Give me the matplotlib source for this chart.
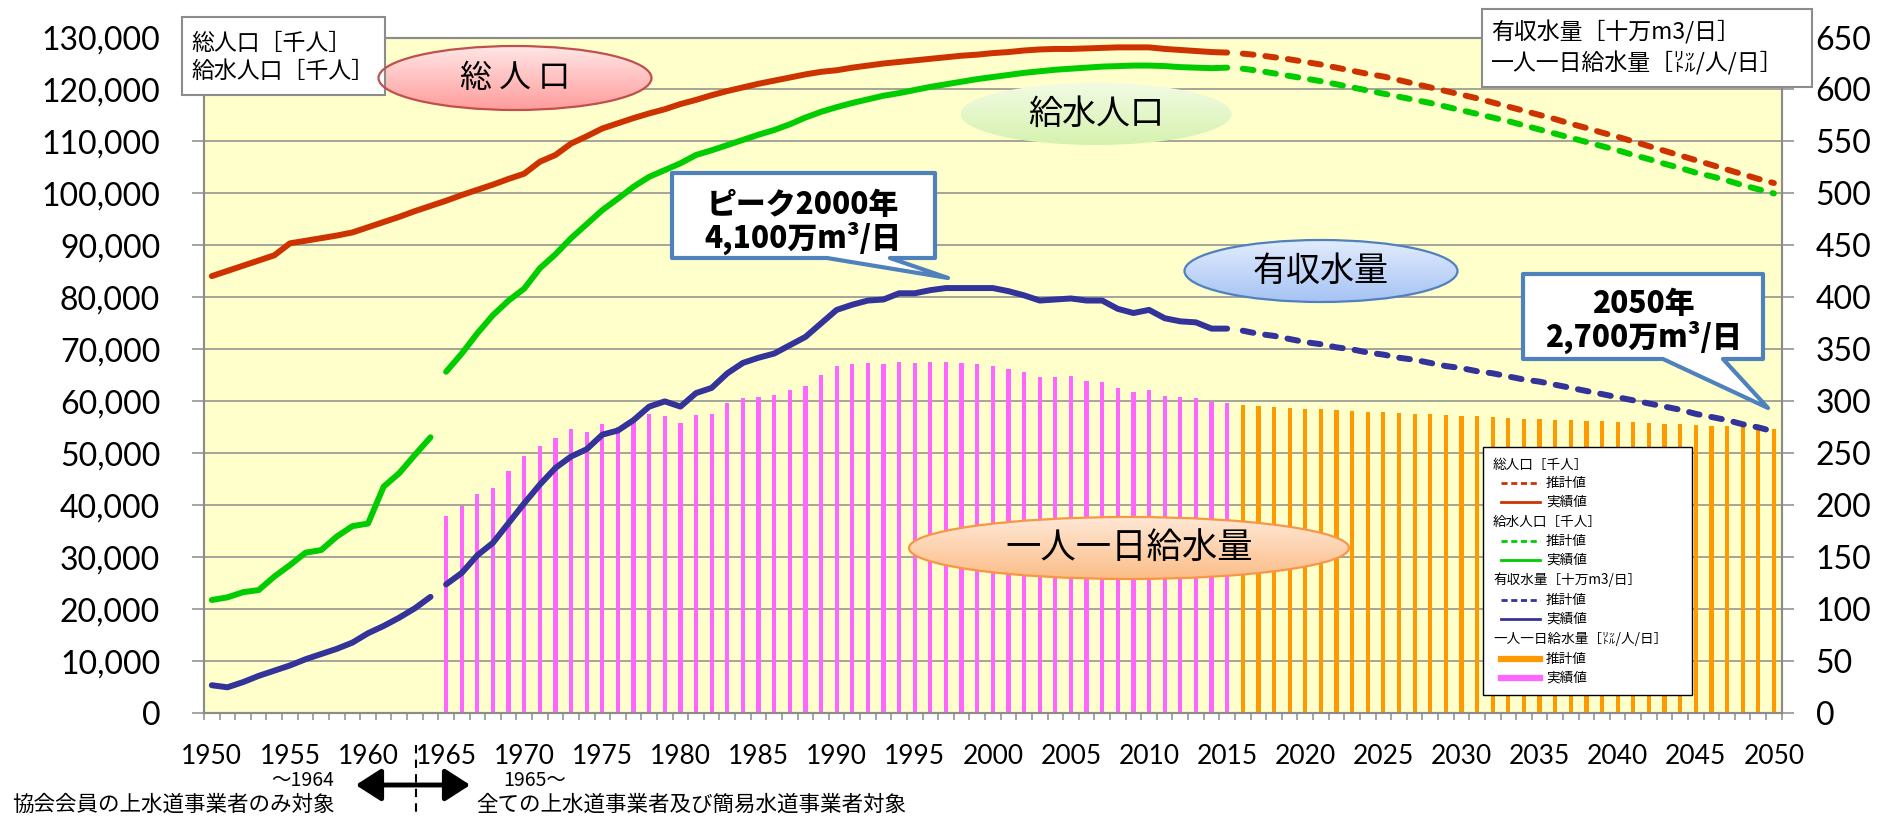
import numpy as np
import matplotlib
matplotlib.use('Agg')
import matplotlib.pyplot as plt
from matplotlib.patches import Ellipse, Rectangle, Polygon, FancyArrowPatch
from matplotlib.lines import Line2D
from matplotlib.colors import to_rgb

plt.rcParams['font.family'] = ['Noto Sans CJK JP', 'DejaVu Sans']

# ---------------- data ----------------
years_all_actual = list(range(1950, 2016))
years_early = list(range(1950, 1965))
years_late = list(range(1965, 2016))
years_proj = list(range(2016, 2051))

total_pop_actual = [
    84100, 85100, 86100, 87100, 88100, 90400, 90900, 91400, 91900, 92500,
    93500, 94500, 95500, 96600, 97600, 98600, 99700, 100700, 101700, 102800,
    103800, 106100, 107400, 109600, 111000, 112500, 113500, 114500, 115400, 116200,
    117200, 118000, 118900, 119700, 120400, 121100, 121700, 122300, 122900, 123400,
    123700, 124200, 124600, 125000, 125300, 125600, 125900, 126200, 126500, 126700,
    127000, 127200, 127500, 127700, 127800, 127800, 127900, 128000, 128100, 128100,
    128100, 127800, 127600, 127400, 127200, 127100]
total_pop_proj = [
    126900, 126600, 126200, 125800, 125300, 124800, 124200, 123600, 123000, 122500,
    121800, 121100, 120400, 119700, 119000, 118300, 117500, 116700, 115900, 115100,
    114300, 113400, 112600, 111700, 110900, 110000, 109100, 108200, 107300, 106400,
    105500, 104600, 103700, 102800, 102000]

served_pop_early = [21800, 22300, 23300, 23700, 26300, 28500, 30900, 31400, 34000, 36000,
                    36500, 43600, 46200, 49700, 53100]
served_pop_late = [
    65700, 69200, 73100, 76600, 79400, 81700, 85600, 88300, 91400, 94100,
    96800, 99000, 101300, 103200, 104500, 105800, 107400, 108300, 109300, 110300,
    111300, 112200, 113300, 114600, 115700, 116600, 117400, 118100, 118800, 119300,
    119900, 120500, 121000, 121500, 122000, 122400, 122800, 123200, 123500, 123800,
    124000, 124200, 124400, 124500, 124600, 124600, 124500, 124300, 124200, 124100,
    124200]
served_pop_proj = [
    124000, 123600, 123100, 122600, 122100, 121600, 121000, 120400, 119800, 119200,
    118600, 118000, 117400, 116700, 116000, 115300, 114600, 113900, 113100, 112300,
    111500, 110700, 109900, 109100, 108300, 107400, 106600, 105700, 104900, 104000,
    103300, 102500, 101600, 100800, 100000]

billed_early = [27, 25, 30, 36, 41, 46, 52, 57, 62, 68, 77, 84, 92, 101, 112]
billed_late = [
    124, 135, 152, 164, 183, 202, 220, 236,
    247, 254, 268, 272, 282, 295, 300, 295, 308, 313,
    327, 337, 342, 346, 354, 362, 375, 388, 393, 397,
    398, 404, 404, 407, 409, 409, 409, 409, 406, 402,
    397, 398,
    399, 397, 397, 389, 385, 388, 380, 377, 376, 370, 370]
billed_proj = [
    368, 365, 363, 360, 357, 355, 352, 350, 347, 345,
    342, 340, 337, 334, 332, 329, 327, 324, 321, 319,
    316, 313, 310, 307, 304, 301, 298, 295, 292, 288,
    285, 282, 278, 275, 271]

per_capita_actual = [
    190, 199, 211, 217, 233, 247, 257, 265,
    273, 270.5, 278, 275.5, 282, 288, 286, 279, 287, 288,
    298, 303, 304, 306, 311, 315, 325, 334, 335.5, 337,
    336, 338, 337, 338, 338, 337, 336, 334, 331, 328,
    323, 323,
    324, 320, 319, 312.5, 309, 311, 305, 304, 303, 299, 298]
per_capita_proj = [
    297, 296, 295, 294, 293, 292.5, 292, 291, 290, 289.5,
    289, 288, 287.5, 287, 286, 285.5, 285, 284, 283.5, 283,
    282.5, 282, 281.5, 281, 280.5, 280, 279, 278.5, 278, 277,
    276.5, 276, 275, 274.5, 273.5]

x_tick_years = list(range(1950, 2051, 5))
left_ticks = list(range(0, 130001, 10000))
right_ticks = list(range(0, 651, 50))

RED = '#CC3300'
GREEN = '#00CC00'
BLUE = '#333399'
PINK = '#FF66FF'
ORANGE = '#FF9900'
GRID = '#8C8C8C'

# ---------------- figure ----------------
W, H = 1890, 817
fig = plt.figure(figsize=(W / 100, H / 100), dpi=100)
L, R, B, T = 204, 1781.7, 713.3, 37.5
ax = fig.add_axes([L / W, 1 - B / H, (R - L) / W, (B - T) / H])
ax.set_facecolor('#FFFFCC')
ax.set_xlim(1949.5, 2050.5)
ax.set_ylim(0, 130000)
ax.set_yticks(left_ticks, labels=[f'{v:,}' for v in left_ticks], fontsize=23, fontfamily='Lato')
ax.set_xticks(x_tick_years, labels=[str(y) for y in x_tick_years], fontsize=19,
              fontfamily=['Liberation Sans Narrow', 'Lato'])
ax.set_xticks(np.arange(1949.5, 2051, 1), minor=True)
ax.tick_params(axis='x', which='major', length=0, pad=22)
ax.tick_params(axis='x', which='minor', length=5, width=1.1, color=GRID)
ax.tick_params(axis='y', length=8.5, width=1.1, color=GRID, pad=23)
ax.grid(axis='y', color=GRID, lw=1.1)
ax.set_axisbelow(True)
for s in ax.spines.values():
    s.set_color(GRID)
    s.set_linewidth(1.5)

lw = 4.3
dash = (0, (1.8, 2.0))
ax.plot(years_all_actual, total_pop_actual, color=RED, lw=lw, solid_capstyle='round', zorder=3)
ax.plot(years_proj, total_pop_proj, color=RED, lw=lw, ls=dash, dash_capstyle='round', zorder=3)
ax.plot(years_early, served_pop_early, color=GREEN, lw=lw, solid_capstyle='round', zorder=3)
ax.plot(years_late, served_pop_late, color=GREEN, lw=lw, solid_capstyle='round', zorder=3)
ax.plot(years_proj, served_pop_proj, color=GREEN, lw=lw, ls=dash, dash_capstyle='round', zorder=3)

ax2 = ax.twinx()
ax2.set_ylim(0, 650)
ax2.set_yticks(right_ticks, labels=[str(v) for v in right_ticks], fontsize=23, fontfamily='Lato')
ax2.tick_params(axis='y', length=8.5, width=1.1, color=GRID, pad=16)
for s in ax2.spines.values():
    s.set_color(GRID)
    s.set_linewidth(1.5)
ax2.bar(years_late, per_capita_actual, width=0.27, color=PINK, zorder=2)
ax2.bar(years_proj, per_capita_proj, width=0.27, color=ORANGE, zorder=2)
ax2.plot(years_early, billed_early, color=BLUE, lw=lw, solid_capstyle='round', zorder=3)
ax2.plot(years_late, billed_late, color=BLUE, lw=lw, solid_capstyle='round', zorder=3)
ax2.plot(years_proj, billed_proj, color=BLUE, lw=lw, ls=dash, dash_capstyle='round', zorder=3)

# ---------------- overlay (pixel coordinates) ----------------
ov = fig.add_axes([0, 0, 1, 1])
ov.set_xlim(0, W)
ov.set_ylim(H, 0)
ov.axis('off')


def grad_ellipse(cx, cy, w, h, ctop, cbot, edge, text, fs):
    e = Ellipse((cx, cy), w, h, facecolor='none', edgecolor=edge if edge else 'none',
                lw=1.6, zorder=6)
    ov.add_patch(e)
    t = np.linspace(0, 1, 128)[:, None]
    c0, c1 = np.array(to_rgb(ctop)), np.array(to_rgb(cbot))
    arr = (c0[None, None, :] * (1 - t[..., None]) + c1[None, None, :] * t[..., None])
    arr = np.repeat(arr, 4, axis=1)
    im = ov.imshow(arr, extent=(cx - w / 2, cx + w / 2, cy + h / 2, cy - h / 2),
                   aspect='auto', zorder=5, interpolation='bilinear')
    im.set_clip_path(e)
    ov.text(cx, cy, text, ha='center', va='center', fontsize=fs, color='black', zorder=7)


grad_ellipse(515, 78, 273, 64, '#FFE6E6', '#FF9C9C', '#C0504D', '総 人 口', 23)
grad_ellipse(1096, 114, 271, 62, '#F2FBE4', '#D6F2AE', None, '給水人口', 24.5)
grad_ellipse(1321, 271, 273, 62, '#E2ECFD', '#A6C3F4', '#4F81BD', '有収水量', 24.5)
grad_ellipse(1129, 548, 440, 62, '#FFE8D6', '#FBBD88', '#F79646', '一人一日給水量', 25.5)

# unit boxes
ov.add_patch(Rectangle((182, 17), 203, 78, facecolor='white', edgecolor=GRID, lw=1.5, zorder=5))
ov.text(191, 43, '総人口［千人］', ha='left', va='center', fontsize=16.5, zorder=6)
ov.text(191, 71, '給水人口［千人］', ha='left', va='center', fontsize=16.5, zorder=6)
ov.add_patch(Rectangle((1482, 9), 330, 78, facecolor='white', edgecolor=GRID, lw=1.5, zorder=5))
ov.text(1491, 32, '有収水量［十万m3/日］', ha='left', va='center', fontsize=16.5, zorder=6)
ov.text(1491, 63, '一人一日給水量［㍑/人/日］', ha='left', va='center', fontsize=16.5, zorder=6)

# callouts
CALL = '#4F81BD'
c1 = [(672, 173), (935, 173), (935, 258), (890, 258), (948, 278), (827, 258), (672, 258)]
ov.add_patch(Polygon(c1, closed=True, facecolor='white', edgecolor=CALL, lw=3, zorder=5,
                     joinstyle='round'))
ov.text(803, 204, 'ピーク2000年', ha='center', va='center', fontsize=21.5, fontweight='heavy', zorder=6)
ov.text(803, 238, '4,100万m³/日', ha='center', va='center', fontsize=21.5, fontweight='heavy', zorder=6)
c2 = [(1523, 274), (1763, 274), (1763, 359), (1723, 359), (1768, 408), (1663, 359), (1523, 359)]
ov.add_patch(Polygon(c2, closed=True, facecolor='white', edgecolor=CALL, lw=3, zorder=5,
                     joinstyle='round'))
ov.text(1643, 303, '2050年', ha='center', va='center', fontsize=21.5, fontweight='heavy', zorder=6)
ov.text(1643, 337, '2,700万m³/日', ha='center', va='center', fontsize=21.5, fontweight='heavy', zorder=6)

# legend
ov.add_patch(Rectangle((1483, 447), 209, 248, facecolor='white', edgecolor='black', lw=1.0, zorder=5))
lfs = 9.8
rows = [
    ('h', '総人口［千人］', 465, None),
    ('d', '推計値', 483, RED),
    ('s', '実績値', 502, RED),
    ('h', '給水人口［千人］', 522, None),
    ('d', '推計値', 541, GREEN),
    ('s', '実績値', 560, GREEN),
    ('h', '有収水量［十万m3/日］', 580, None),
    ('d', '推計値', 600, BLUE),
    ('s', '実績値', 619, BLUE),
    ('h', '一人一日給水量［㍑/人/日］', 639, None),
    ('b', '推計値', 659, ORANGE),
    ('b', '実績値', 678, PINK),
]
for kind, label, yy, col in rows:
    if kind == 'h':
        ov.text(1493, yy, label, ha='left', va='center', fontsize=lfs, zorder=6)
        continue
    if kind == 'd':
        ov.add_line(Line2D([1501, 1540], [yy, yy], color=col, lw=2, ls=(0, (2.2, 1.3)), zorder=6))
    elif kind == 's':
        ov.add_line(Line2D([1501, 1540], [yy, yy], color=col, lw=2, zorder=6))
    else:
        ov.add_line(Line2D([1501, 1540], [yy, yy], color=col, lw=4.5, zorder=6))
    ov.text(1546, yy, label, ha='left', va='center', fontsize=lfs, zorder=6)

# bottom notes
ov.text(303, 781, '～1964', ha='center', va='center', fontsize=14, zorder=6)
ov.text(535, 781, '1965～', ha='center', va='center', fontsize=14, zorder=6)
ov.text(12, 805, '協会会員の上水道事業者のみ対象', ha='left', va='center', fontsize=15.5, zorder=6)
ov.text(476, 805, '全ての上水道事業者及び簡易水道事業者対象', ha='left', va='center', fontsize=15.5, zorder=6)
ov.add_patch(FancyArrowPatch((353, 785), (473, 785), arrowstyle='<|-|>,head_length=0.7,head_width=0.45',
                             mutation_scale=22, lw=3.5, color='black', zorder=6))
ov.add_line(Line2D([416, 416], [745, 817], color='black', lw=1.5, ls=(0, (4, 3)), zorder=6))

ov.set_xlim(0, W)
ov.set_ylim(H, 0)
ov.set_aspect('auto')

fig.savefig('out.png', dpi=100)
